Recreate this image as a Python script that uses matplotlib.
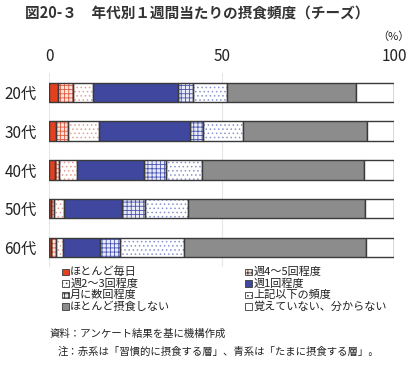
import matplotlib.pyplot as plt
import matplotlib.patches as mpatches
import numpy as np

plt.rcParams['font.family'] = ['Noto Sans CJK JP', 'DejaVu Sans']
plt.rcParams['hatch.linewidth'] = 0.6

ages = ['20代', '30代', '40代', '50代', '60代']
labels = ['ほとんど毎日', '週4～5回程度', '週2～3回程度', '週1回程度',
          '月に数回程度', '上記以下の頻度', 'ほとんど摂食しない', '覚えていない、分からない']
mainich = [2.5, 1.9, 1.7, 0.5, 0.6]
w45 = [4.3, 3.6, 1.2, 1.0, 1.3]
w23 = [5.9, 8.9, 5.1, 2.8, 2.1]
w1 = [24.6, 26.5, 19.6, 16.9, 10.7]
monthly = [4.5, 3.6, 6.2, 6.5, 5.9]
lower = [9.8, 11.7, 10.6, 12.4, 18.4]
never = [37.5, 35.9, 46.9, 51.5, 52.8]
unknown = [10.9, 7.9, 8.7, 8.4, 8.2]
series = [mainich, w45, w23, w1, monthly, lower, never, unknown]

# (facecolor, hatch, hatch colour)
styles = [('#E2401F', None, None),
          ('#FBE3DC', '++++', '#E05A40'),
          ('#FFFFFF', '....', '#E8A090'),
          ('#3F479E', None, None),
          ('#E8EAF8', '++++', '#4A55B0'),
          ('#FFFFFF', '....', '#8A94D0'),
          ('#8C8C8C', None, None),
          ('#FFFFFF', None, None)]

fig = plt.figure(figsize=(4.2, 3.7), dpi=100)
ax = fig.add_axes([0.1174, 0.2784, 0.8207, 0.5243])

y = np.arange(len(ages))
left = np.zeros(len(ages))
for vals, (fc, hatch, hc) in zip(series, styles):
    vals = np.array(vals)
    if hatch:
        ax.barh(y, vals, left=left, height=0.5, color=fc, edgecolor=hc,
                hatch=hatch, linewidth=0, zorder=2)
        ax.barh(y, vals, left=left, height=0.5, fill=False,
                edgecolor='#3a3a3a', linewidth=1.0, zorder=3)
    else:
        ax.barh(y, vals, left=left, height=0.5, color=fc,
                edgecolor='#3a3a3a', linewidth=1.0, zorder=3)
    left += vals

ax.set_xlim(0, 100)
ax.set_ylim(len(ages) - 0.5, -0.5)
ax.set_xticks([0, 50, 100])
ax.xaxis.tick_top()
ax.tick_params(axis='x', length=0, labelsize=11, pad=6, labelcolor='#222222')
ax.set_yticks(y)
ax.set_yticklabels(ages)
ax.tick_params(axis='y', length=0, labelsize=11, pad=9, labelcolor='#222222')
ax.grid(axis='x', color='#e6e6e6', linewidth=0.8, zorder=0)
for s in ax.spines.values():
    s.set_visible(False)

fig.text(0.937, 0.9, '（%）', fontsize=8, ha='center', va='center', color='#222222')
fig.text(0.06, 0.967, '図20-３　年代別１週間当たりの摂食頻度（チーズ）',
         fontsize=10.5, fontweight='bold', va='center', color='#333333')

# legend, two columns in row order
for i, (lab, (fc, hatch, hc)) in enumerate(zip(labels, styles)):
    col, row = i % 2, i // 2
    xm = 0.148 if col == 0 else 0.584
    ym = 1 - (272 + row * 11.5) / 370
    p = mpatches.Rectangle((xm, ym - 0.009), 0.016, 0.018, transform=fig.transFigure,
                           facecolor=fc, edgecolor='#3a3a3a', linewidth=0.6,
                           hatch=hatch)
    fig.add_artist(p)
    fig.text(xm + 0.019, ym, lab, fontsize=8, va='center', color='#222222')

fig.text(0.117, 1 - 334 / 370, '資料：アンケート結果を基に機構作成', fontsize=7.5,
         va='center', color='#222222')
fig.text(0.138, 1 - 352 / 370, '注：赤系は「習慣的に摂食する層」、青系は「たまに摂食する層」。',
         fontsize=7.5, va='center', color='#222222')

fig.savefig('out.png', dpi=100)
